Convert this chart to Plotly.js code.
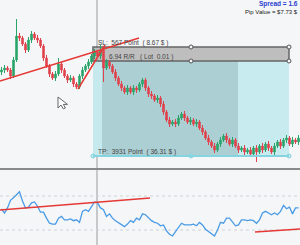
<!DOCTYPE html>
<html><head><meta charset="utf-8">
<script src="https://cdn.plot.ly/plotly-3.0.1.min.js"></script>
<style>html,body{margin:0;padding:0;background:#f4f6f8;}#chart{width:300px;height:245px;}</style>
</head><body><div id="chart"></div>
<script>
// ---- price candles (points) ----
const openP  = [98,100,102,100,94,110,134,132,126,120,130,136,132,130,124,112,104,96,92,96,106,100,94,90,92,86,83,94,100,104,108,114,118,114,120,102,108,104,98,92,86,82,78,82,78,82,80,86,90,82,76,74,70,72,66,58,50,46,48,46,52,56,52,48,50,46,48,42,38,32,28,24,20,26,30,34,30,26,30,24,20,22,18,20,16,22,18,24,20,26,22,18,24,28,24,30,32,26,30,28];
const closeP = [100,102,100,94,110,134,132,126,120,130,136,132,130,124,112,104,96,92,96,106,100,94,90,92,86,83,94,100,104,108,114,118,114,120,102,108,104,98,92,86,82,78,82,78,82,80,86,90,82,76,74,70,72,66,58,50,46,48,46,52,56,52,48,50,46,48,42,38,32,28,24,20,26,30,34,30,26,30,24,20,22,18,20,16,22,18,24,20,26,22,18,24,28,24,30,32,26,30,28,32];
const highP  = [103,105,104,102,113,151,137,134,128,133,139,138,135,132,126,115,106,98,99,112,108,102,96,95,94,88,96,103,106,111,116,121,120,125,122,111,110,106,101,94,89,84,85,84,85,84,88,92,92,84,79,76,75,74,69,60,53,50,51,55,58,59,54,53,52,51,50,45,40,35,30,27,28,33,36,37,32,33,32,27,24,25,22,23,24,25,26,27,28,29,24,27,30,31,32,35,34,33,32,35];
const lowP   = [95,97,98,91,92,108,129,124,117,118,127,130,127,122,109,102,93,90,89,94,97,92,87,88,83,81,81,91,98,101,106,111,112,111,88,100,101,96,89,84,79,76,75,76,75,77,78,83,79,73,71,68,67,63,55,48,43,44,43,44,50,49,46,45,44,43,40,35,30,25,22,17,18,23,28,27,24,23,22,17,18,15,16,13,14,8,16,17,18,19,16,15,22,21,22,27,24,23,26,25];
// ---- oscillator ----
const oscV = [55,50,56,65,68,72,75,64,56,57,62,63,58,51,51,44,38,37,37,44,46,42,42,43,41,42,39,52,54,52,57,63,62,56,54,46,49,44,41,39,37,34,37,41,39,44,42,49,48,44,41,39,38,35,36,29,25,23,28,34,38,36,36,36,37,35,39,36,31,28,25,23,30,39,38,44,44,39,35,36,42,42,41,42,41,38,42,50,52,50,48,50,48,52,59,55,57,49,56,56];
const oscLevels = [30, 70];
// ---- position tool (short) ----
const posStartIdx = 30.5, posSplitIdx = 33.5, posFillIdx = 78.83, posEndIdx = 95.83;
const entryPrice = 109, slPrice = 123, tpPrice = 14;
const slLabel = "SL:  567 Point  ( 8.67 $ )";
const rrLabel = "6.94 R/R   ( Lot  0.01 )";
const tpLabel = "TP:  3931 Point  ( 36.31 $ )";
const spreadLabel = "Spread = 1.6";
const pipLabel = "Pip Value = $7.73 $";
// ---- drawings ----
const trend1X = [-0.5, 45.83], trend1Y = [89, 132];
const trend2X = [25.5, 34.5],  trend2Y = [81, 125];
const oscTrend1X = [-0.5, 49.5], oscTrend1Y = [53.5, 67.6];
const oscTrend2X = [84.5, 99.5], oscTrend2Y = [27.6, 31.2];
const crossIdx = 31.83;

const idx = openP.map((_, i) => i);

const candles = {
  type: 'candlestick', x: idx, open: openP, high: highP, low: lowP, close: closeP,
  xaxis: 'x', yaxis: 'y', whiskerwidth: 0, hoverinfo: 'skip',
  increasing: {line: {color: '#2aa56a', width: 1}, fillcolor: '#2aa56a'},
  decreasing: {line: {color: '#e0434d', width: 1}, fillcolor: '#e0434d'}
};
const osc = {
  type: 'scatter', mode: 'lines', x: idx, y: oscV, xaxis: 'x2', yaxis: 'y2',
  line: {color: '#4a9be6', width: 1.3}, hoverinfo: 'skip'
};
const midIdx = (posStartIdx + posEndIdx) / 2;
const handles = {
  type: 'scatter', mode: 'markers', xaxis: 'x', yaxis: 'y', hoverinfo: 'skip',
  x: [midIdx, posEndIdx, midIdx, posEndIdx],
  y: [slPrice, slPrice, entryPrice, entryPrice],
  marker: {symbol: 'circle', size: 4, color: '#f4f6f8', line: {color: '#555', width: 1}}
};
const tpHandles = {
  type: 'scatter', mode: 'markers', xaxis: 'x', yaxis: 'y', hoverinfo: 'skip',
  x: [posStartIdx, midIdx, posEndIdx], y: [tpPrice, tpPrice, tpPrice],
  marker: {symbol: 'circle', size: 4, color: '#c8eef2', line: {color: '#7fd2de', width: 1}}
};

const shapes = [
  {type:'rect', xref:'x', yref:'y', x0:posStartIdx, x1:posSplitIdx, y0:tpPrice, y1:entryPrice, fillcolor:'#c6e9ee', line:{width:0}, layer:'below'},
  {type:'rect', xref:'x', yref:'y', x0:posSplitIdx, x1:posFillIdx, y0:tpPrice, y1:entryPrice, fillcolor:'#abcfd3', line:{width:0}, layer:'below'},
  {type:'rect', xref:'x', yref:'y', x0:posFillIdx, x1:posEndIdx, y0:tpPrice, y1:entryPrice, fillcolor:'#c8ebef', line:{width:0}, layer:'below'},
  {type:'rect', xref:'x', yref:'y', x0:posStartIdx, x1:posEndIdx, y0:entryPrice, y1:slPrice, fillcolor:'rgba(180,180,180,0.85)', line:{color:'#666', width:1.5}, layer:'below'},
  {type:'line', xref:'x', yref:'y', x0:posStartIdx, x1:posEndIdx, y0:tpPrice, y1:tpPrice, line:{color:'#86d4e0', width:2}},
  {type:'line', xref:'x', yref:'paper', x0:crossIdx, x1:crossIdx, y0:0, y1:1, line:{color:'#9a9a9a', width:1}, layer:'below'},
  {type:'line', xref:'paper', yref:'paper', x0:0, x1:1, y0:0.3102, y1:0.3102, line:{color:'#8a8a8a', width:2}},
  {type:'line', xref:'paper', yref:'y2', x0:0, x1:1, y0:oscLevels[0], y1:oscLevels[0], line:{color:'#cfd3d8', width:1, dash:'dot'}, layer:'below'},
  {type:'line', xref:'paper', yref:'y2', x0:0, x1:1, y0:oscLevels[1], y1:oscLevels[1], line:{color:'#cfd3d8', width:1, dash:'dot'}, layer:'below'},
  {type:'line', xref:'x', yref:'y', x0:trend1X[0], x1:trend1X[1], y0:trend1Y[0], y1:trend1Y[1], line:{color:'#e53935', width:1.5}},
  {type:'line', xref:'x', yref:'y', x0:trend2X[0], x1:trend2X[1], y0:trend2Y[0], y1:trend2Y[1], line:{color:'#e53935', width:1.5}},
  {type:'line', xref:'x2', yref:'y2', x0:oscTrend1X[0], x1:oscTrend1X[1], y0:oscTrend1Y[0], y1:oscTrend1Y[1], line:{color:'#e53935', width:1.5}},
  {type:'line', xref:'x2', yref:'y2', x0:oscTrend2X[0], x1:oscTrend2X[1], y0:oscTrend2Y[0], y1:oscTrend2Y[1], line:{color:'#e53935', width:1.5}},
  {type:'path', xref:'x', yref:'y', path:'M18.83,73 L18.83,62 L19.83,65 L20.6,61.2 L21.3,62 L20.6,65.6 L22,65.6 Z', fillcolor:'#ffffff', line:{color:'#666', width:1}}
];

const lblFont = {family:'Liberation Sans, Arial, sans-serif', size:6.5, color:'#444'};
const annotations = [
  {xref:'x', yref:'y', x:31.5, y:127, text:slLabel, showarrow:false, xanchor:'left', yanchor:'middle', font:lblFont},
  {xref:'x', yref:'y', x:35.1, y:113, text:rrLabel, showarrow:false, xanchor:'left', yanchor:'middle', font:lblFont},
  {xref:'x', yref:'y', x:31.5, y:18, text:tpLabel, showarrow:false, xanchor:'left', yanchor:'middle', font:lblFont},
  {xref:'paper', yref:'paper', x:0.995, y:0.982, text:'<b>'+spreadLabel+'</b>', showarrow:false, xanchor:'right', yanchor:'middle', borderpad:0, font:{family:'Liberation Sans, Arial, sans-serif', size:6.5, color:'#2b3fcf'}},
  {xref:'paper', yref:'paper', x:0.995, y:0.951, text:pipLabel, showarrow:false, xanchor:'right', yanchor:'middle', borderpad:0, font:{family:'Liberation Sans, Arial, sans-serif', size:6, color:'#222'}}
];

const layout = {
  width:300, height:245, margin:{l:0, r:0, t:0, b:0, pad:0},
  paper_bgcolor:'#f4f6f8', plot_bgcolor:'#f4f6f8', showlegend:false,
  xaxis:{range:[-0.5, 99.5], visible:false, rangeslider:{visible:false}, fixedrange:true},
  yaxis:{domain:[0.3143, 1], range:[2, 170], visible:false, fixedrange:true},
  xaxis2:{anchor:'y2', range:[-0.5, 99.5], visible:false, fixedrange:true},
  yaxis2:{domain:[0, 0.3061], range:[12.4, 100.6], visible:false, fixedrange:true},
  shapes:shapes, annotations:annotations, hovermode:false
};
Plotly.newPlot('chart', [candles, osc, handles, tpHandles], layout, {displayModeBar:false, staticPlot:true});
</script></body></html>
